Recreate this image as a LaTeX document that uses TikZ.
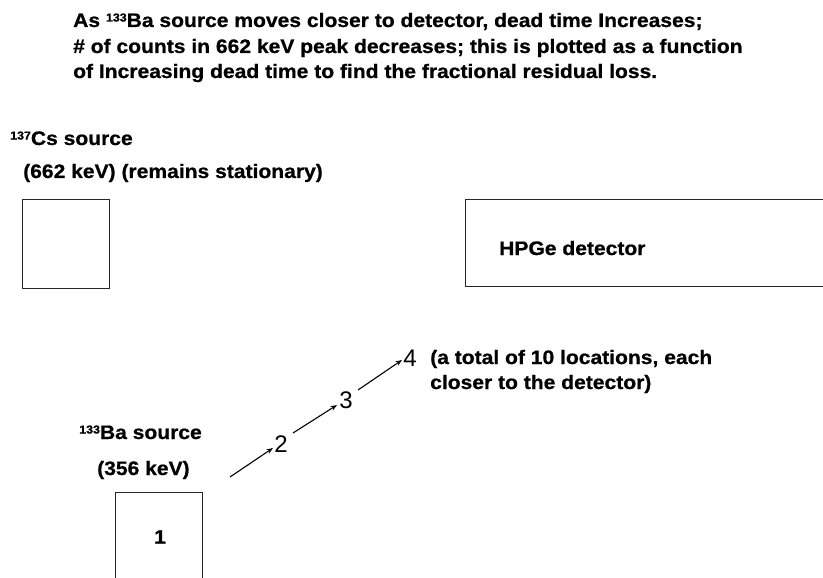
\documentclass[tikz,border=0pt]{standalone}
\usepackage{fontspec}
\setmainfont{Liberation Sans}[FakeStretch=1.08,BoldFeatures={FakeBold=0.8}]
\newfontfamily\numfont{Liberation Sans}
\usetikzlibrary{arrows.meta}
\newcommand\isot[1]{\raisebox{5.5pt}{\fontsize{11.5}{12}\selectfont\bfseries #1}}
\begin{document}
\begin{tikzpicture}[x=1pt,y=-1pt,
  lbl/.style={anchor=base west,inner sep=0pt,font=\fontsize{19.5}{23}\selectfont\bfseries},
  box/.style={draw=black!85,line width=1.1pt,inner sep=0pt,anchor=north west},
  num/.style={inner sep=0pt,font=\fontsize{24}{28}\numfont},
  mv/.style={line width=1.1pt,-{Stealth[length=6.5pt,width=5pt]}}]
\useasboundingbox (0,0) rectangle (823,578);
% title
\node[lbl] (t1) at (73,27) {As \isot{133}Ba source moves closer to detector, dead time Increases;};
\node[lbl] (t2) at (73,53) {\# of counts in 662 keV peak decreases; this is plotted as a function};
\node[lbl] (t3) at (73,78) {of Increasing dead time to find the fractional residual loss.};
% Cs source
\node[lbl] (cs1) at (10,145) {\isot{137}Cs source};
\node[lbl] (cs2) at (23,178) {(662 keV) (remains stationary)};
\node[box,minimum width=87pt,minimum height=89pt] (csbox) at (22,199) {};
% detector
\node[box,minimum width=358pt,minimum height=87pt] (det) at (465,199) {};
\node[lbl] (detl) at (499,255) {HPGe detector};
% Ba source
\node[lbl,anchor=base east] (ba1) at (202,439) {\isot{133}Ba source};
\node[lbl] (ba2) at (97,475) {(356 keV)};
\node[box,minimum width=87pt,minimum height=100pt] (babox) at (115,492) {};
\node[inner sep=0pt,font=\fontsize{19.5}{23}\selectfont\bfseries] (one) at (160,537) {1};
% positions
\coordinate (p1a) at (230,477);
\coordinate (p1b) at (273,448);
\node[num] (two) at (281,444) {2};
\coordinate (p2a) at (293,433);
\coordinate (p2b) at (337,405);
\node[num] (three) at (346,400) {3};
\coordinate (p3a) at (358,390);
\coordinate (p3b) at (402,360);
\node[num] (four) at (410,358) {4};
\draw[mv] (p1a) -- (p1b);
\draw[mv] (p2a) -- (p2b);
\draw[mv] (p3a) -- (p3b);
\node[lbl] (n1) at (430,364) {(a total of 10 locations, each};
\node[lbl] (n2) at (430,389) {closer to the detector)};
\end{tikzpicture}
\end{document}
